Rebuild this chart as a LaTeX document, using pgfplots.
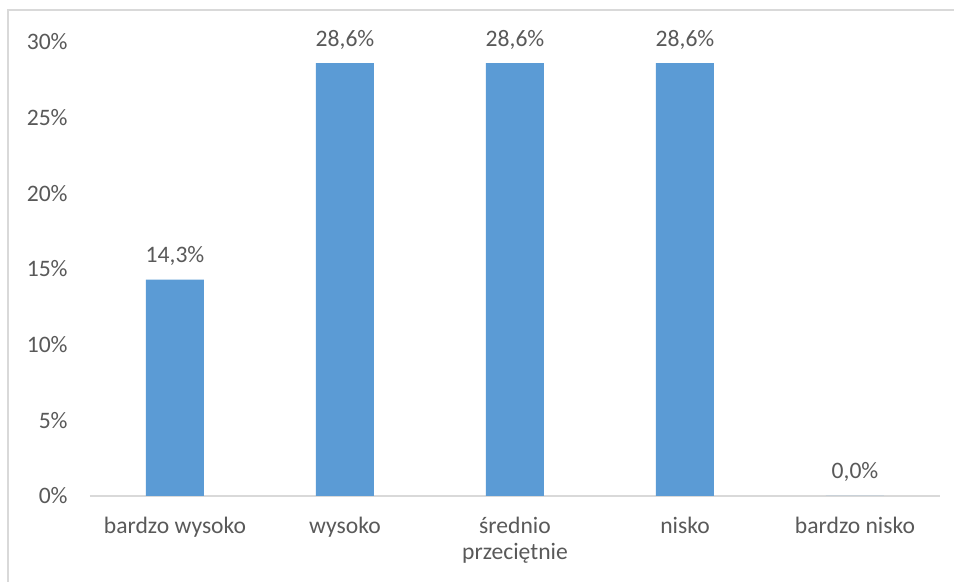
\documentclass[border=0pt]{standalone}
\usepackage{fontspec}
\setmainfont{Carlito}
\usepackage{pgfplots}
\pgfplotsset{compat=1.18}
\definecolor{barblue}{HTML}{5B9BD5}
\definecolor{txtgray}{HTML}{595959}
\definecolor{linegray}{HTML}{D9D9D9}
\begin{document}
\begin{tikzpicture}[font=\fontsize{11.8pt}{12.8pt}\selectfont]
\useasboundingbox (0,0) rectangle (477pt,291pt);
\draw[linegray, line width=1pt] (4pt,0) -- (4pt,286pt) -- (477pt,286pt);
\begin{axis}[
  at={(45pt,43pt)}, anchor=south west,
  width=425pt, height=227pt, scale only axis,
  xmin=-0.5, xmax=4.5, ymin=0, ymax=30,
  clip=false,
  axis x line*=bottom, axis y line*=left,
  y axis line style={draw=none},
  x axis line style={linegray, line width=0.9pt},
  major tick length=0pt,
  xtick={0,1,2,3,4},
  xticklabels={bardzo wysoko, wysoko, {średnio\\przeciętnie}, nisko, bardzo nisko},
  xticklabel style={txtgray, align=center, anchor=north, inner sep=0pt, yshift=-10.5pt},
  ytick={0,5,10,15,20,25,30},
  yticklabels={0\%,5\%,10\%,15\%,20\%,25\%,30\%},
  yticklabel style={txtgray, anchor=east, inner sep=0pt, xshift=-11pt},
  /pgf/number format/assume math mode=true,
  ybar, bar width=29pt,
  nodes near coords={\pgfmathprintnumber[fixed,fixed zerofill,precision=1,use comma,assume math mode=true]{\pgfplotspointmeta}\%},
  every node near coord/.append style={txtgray, anchor=base, inner sep=0pt, yshift=8.5pt},
]
\addplot[fill=barblue, draw=none] coordinates {(0,14.3) (1,28.6) (2,28.6) (3,28.6) (4,0.0)};
\end{axis}
\end{tikzpicture}
\end{document}
